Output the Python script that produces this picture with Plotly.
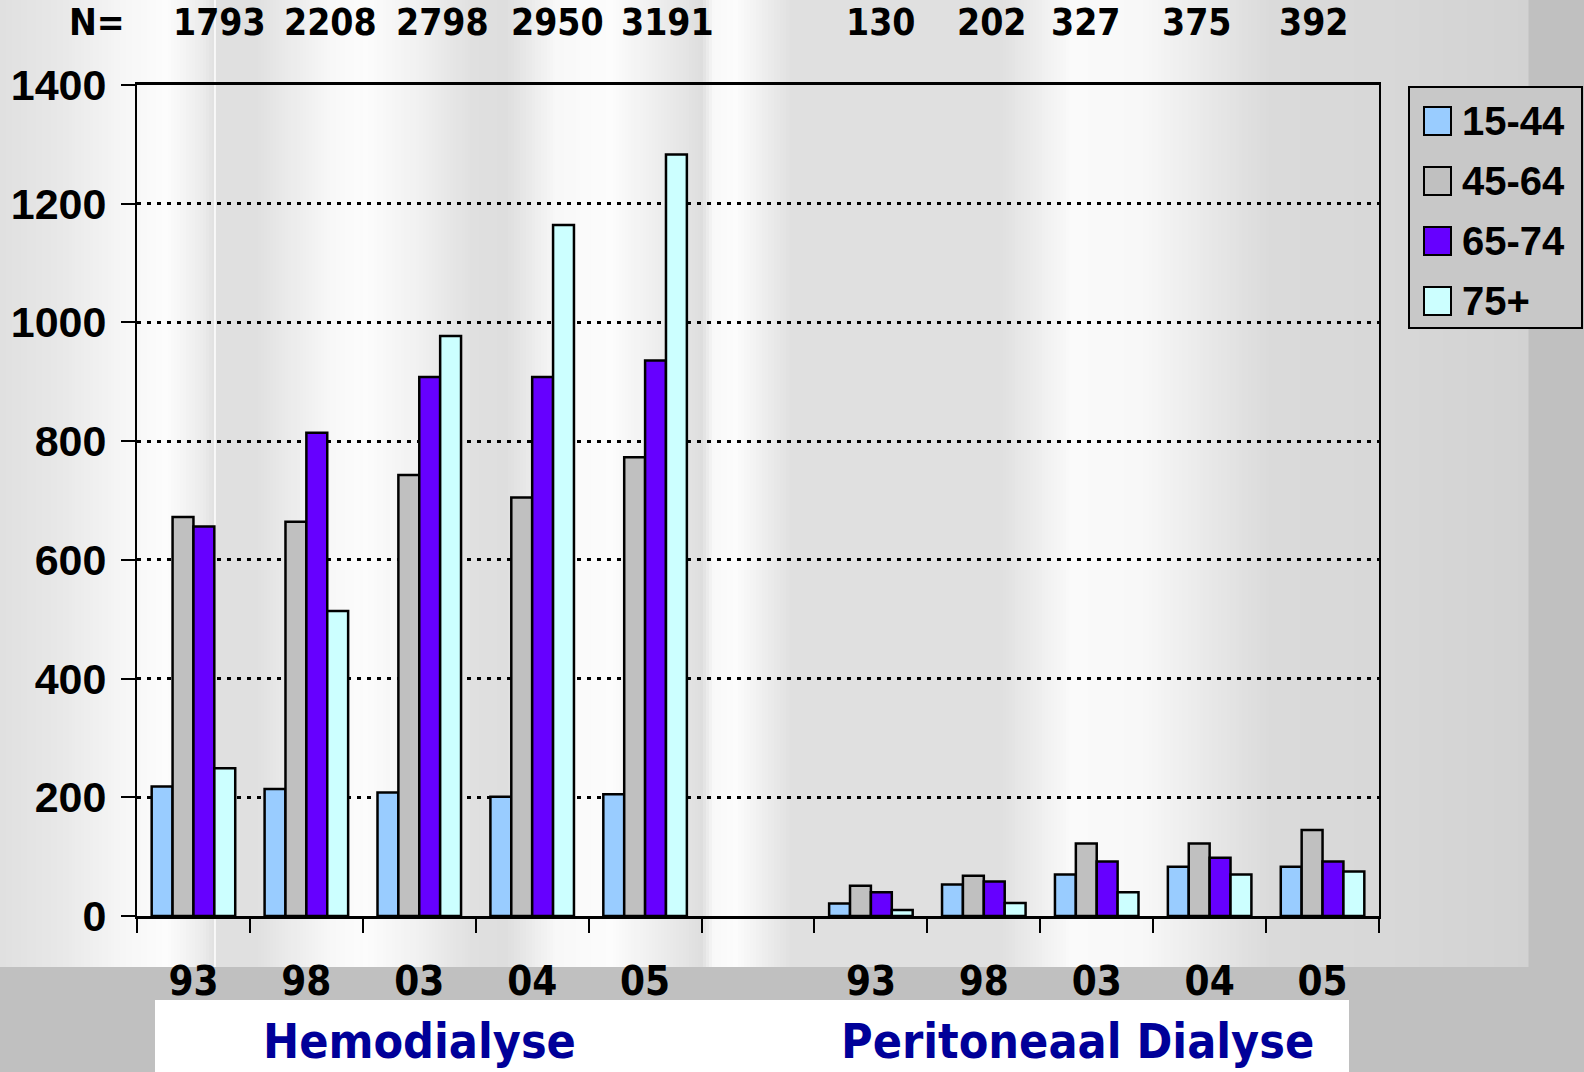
import plotly.graph_objects as go

# data
AGE_GROUPS = ["15-44", "45-64", "65-74", "75+"]
YEARS = ["93", "98", "03", "04", "05"]
HD_N = [1793, 2208, 2798, 2950, 3191]
PD_N = [130, 202, 327, 375, 392]

HD_15_44 = [218, 214, 208, 201, 205]
HD_45_64 = [672, 664, 743, 705, 773]
HD_65_74 = [656, 814, 908, 908, 936]
HD_75_UP = [249, 514, 977, 1164, 1283]

PD_15_44 = [21, 53, 70, 83, 83]
PD_45_64 = [51, 68, 122, 122, 145]
PD_65_74 = [40, 58, 92, 98, 92]
PD_75_UP = [10, 22, 40, 70, 75]

COLORS = ["#99CCFF", "#C0C0C0", "#6600FF", "#CCFFFF"]
NAVY = "#000099"
BOLD = "Liberation Sans"
NARROW = "DejaVu Sans Condensed, Liberation Sans"

# the N= labels sit a little off the category centres on the slide (px)
HD_N_SHIFT = [26, 24, 23, 25, 22]
PD_N_SHIFT = [10, 8, -11, -13, -9]

W, H = 1584, 1072
L, R, T, B = 137, 1379, 85, 916

def px(x):
    return (x - L) / (R - L)

def py(y):
    return (B - y) / (B - T)

def label(x, y, text, family, size, color="black", xanchor="center", **kw):
    return dict(x=x, y=y, yref="paper", text=text, showarrow=False,
                xanchor=xanchor, yanchor="middle",
                font=dict(family=family, size=size, color=color, weight="bold"), **kw)

cats = ["HD " + y for y in YEARS] + ["gap"] + ["PD " + y for y in YEARS]
labels = YEARS + [""] + YEARS
series = [
    HD_15_44 + [None] + PD_15_44,
    HD_45_64 + [None] + PD_45_64,
    HD_65_74 + [None] + PD_65_74,
    HD_75_UP + [None] + PD_75_UP,
]

fig = go.Figure()
for name, vals, col in zip(AGE_GROUPS, series, COLORS):
    fig.add_trace(go.Bar(
        x=cats, y=vals, name=name, showlegend=False,
        marker=dict(color=col, line=dict(color="black", width=2.5)),
    ))

# slide background: vertical grey/white bands
stops = [(0, 0xE0), (60, 0xE8), (120, 0xF6), (165, 0xFC), (200, 0xEC), (212, 0xE2),
         (215, 0xE0), (255, 0xE0), (330, 0xF8), (365, 0xFC), (420, 0xF0), (470, 0xE0),
         (505, 0xDE), (555, 0xF8), (610, 0xFC), (680, 0xE6), (700, 0xDE), (712, 0xF8),
         (735, 0xFC), (790, 0xE0), (1000, 0xE0), (1070, 0xFA), (1140, 0xF8),
         (1270, 0xDA), (1380, 0xD8), (1528, 0xD2)]
shapes = []
step = 3
for (xa, ca), (xb, cb) in zip(stops[:-1], stops[1:]):
    x = xa
    while x < xb:
        t = (x - xa) / (xb - xa)
        v = int(round(ca + (cb - ca) * t))
        shapes.append(dict(type="rect", xref="paper", yref="paper", layer="below",
                           x0=px(x), x1=px(min(x + step, xb) + 0.5), y0=py(967), y1=py(0),
                           fillcolor=f"rgb({v},{v},{v})", line=dict(width=0)))
        x += step
shapes.append(dict(type="line", xref="paper", yref="paper", layer="below",
                   x0=px(215), x1=px(215), y0=py(967), y1=py(0),
                   line=dict(color="white", width=1.5)))
# white label strip at the bottom
shapes.append(dict(type="rect", xref="paper", yref="paper", layer="below",
                   x0=px(155), x1=px(1349), y0=py(1072), y1=py(1000),
                   fillcolor="white", line=dict(width=0)))

# legend box built by hand (large square keys)
shapes.append(dict(type="rect", xref="paper", yref="paper",
                   x0=px(1409), x1=px(1582), y0=py(328), y1=py(87),
                   fillcolor="#C8C8C8", line=dict(color="black", width=2)))
annotations = []
for i, (name, col) in enumerate(zip(AGE_GROUPS, COLORS)):
    yc = 121 + i * 60
    shapes.append(dict(type="rect", xref="paper", yref="paper",
                       x0=px(1424), x1=px(1451), y0=py(yc + 14), y1=py(yc - 14),
                       fillcolor=col, line=dict(color="black", width=2)))
    annotations.append(label(px(1460), py(yc), name, BOLD, 40, xanchor="left", xref="paper"))

# N= row
annotations.append(label(px(97), py(22), "N=", NARROW, 37, xref="paper"))
for cat, n, dx in zip(cats[:5], HD_N, HD_N_SHIFT):
    annotations.append(label(cat, py(22), str(n), NARROW, 37, xref="x", xshift=dx))
for cat, n, dx in zip(cats[6:], PD_N, PD_N_SHIFT):
    annotations.append(label(cat, py(22), str(n), NARROW, 37, xref="x", xshift=dx))

annotations.append(label(px(419), py(1041), "Hemodialyse", NARROW, 48, NAVY, xref="paper"))
annotations.append(label(px(1077), py(1041), "Peritoneaal Dialyse", NARROW, 48, NAVY, xref="paper"))

fig.update_layout(
    width=W, height=H,
    margin=dict(l=L, r=W - R, t=T, b=H - B, pad=0),
    paper_bgcolor="#C0C0C0",
    plot_bgcolor="rgba(0,0,0,0)",
    barmode="group", bargap=0.26, bargroupgap=0,
    shapes=shapes, annotations=annotations,
    xaxis=dict(
        type="category", categoryorder="array", categoryarray=cats,
        tickmode="array", tickvals=cats, ticktext=labels,
        tickson="boundaries", ticks="outside", ticklen=14, tickwidth=2, tickcolor="black",
        ticklabelstandoff=28,
        tickfont=dict(family=NARROW, size=40, color="black", weight="bold"),
        showline=True, linecolor="black", linewidth=3, mirror=True,
        showgrid=False,
    ),
    yaxis=dict(
        range=[0, 1400], tickvals=[0, 200, 400, 600, 800, 1000, 1200, 1400],
        ticks="outside", ticklen=14, tickwidth=2, tickcolor="black",
        ticklabelstandoff=6,
        tickfont=dict(family=BOLD, size=43, color="black", weight="bold"),
        showline=True, linecolor="black", linewidth=2, mirror=True,
        showgrid=True, gridcolor="black", gridwidth=2.5, griddash="4px,6px",
        zeroline=False,
    ),
)

fig.write_html("out.html", config={"displayModeBar": False},
               post_script="document.body.style.margin='0';")
